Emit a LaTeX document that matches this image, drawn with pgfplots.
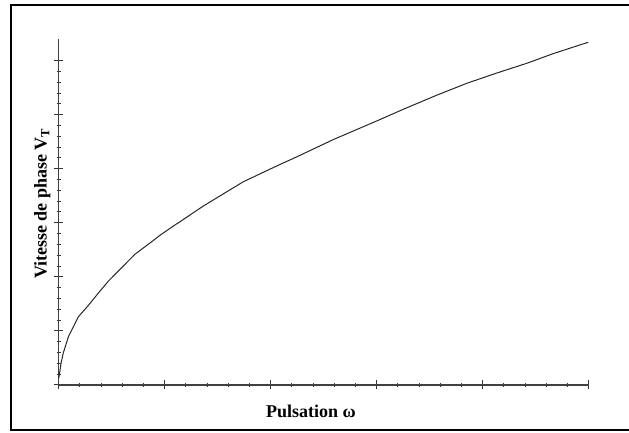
\documentclass[border=0pt]{standalone}
\usepackage{fontspec}
\setmainfont{Liberation Serif}
\usepackage{pgfplots}
\pgfplotsset{compat=1.18}
\begin{document}
\begin{tikzpicture}[x=1pt,y=1pt]
\useasboundingbox (0,0) rectangle (629,433);
\draw[line width=2pt,black] (11,2.7) rectangle (640,428.3);
\begin{axis}[
  at={(58.7pt,48pt)}, anchor=origin,
  scale only axis,
  width=530pt, height=346pt,
  xmin=0, xmax=5, ymin=0, ymax=6.4,
  axis lines*=left,
  axis line style={line width=1.3pt, black!75, -},
  xtick={0,1,2,3,4,5}, ytick={0,1,2,3,4,5,6},
  minor x tick num=4, minor y tick num=4,
  xticklabels={}, yticklabels={},
  tick align=center,
  major tick length=9pt, minor tick length=4pt,
  every tick/.style={black!80, line width=1pt},
  clip=false,
  xlabel={\fontsize{18}{20}\selectfont\bfseries Pulsation ω},
  ylabel={\fontsize{18}{20}\selectfont\bfseries Vitesse de phase V\textsubscript{T}},
  xlabel style={at={(axis description cs:0.476,-0.0945)}, anchor=base, rotate=0},
  ylabel style={at={(axis description cs:-0.0226,0.5246)}, anchor=base, rotate=0},
]
\addplot[black!85, line width=1pt] coordinates {
(0.000,0.13) (0.003,0.15) (0.022,0.40) (0.043,0.59) (0.091,0.89)
(0.185,1.26) (0.279,1.47) (0.374,1.70) (0.468,1.92) (0.594,2.17)
(0.720,2.42) (0.877,2.65) (0.956,2.77) (1.097,2.96) (1.144,3.02)
(1.364,3.31) (1.742,3.76) (2.088,4.08) (2.213,4.19) (2.591,4.54)
(3.031,4.91) (3.251,5.10) (3.566,5.36) (3.849,5.58) (4.132,5.77)
(4.415,5.95) (4.666,6.13) (4.996,6.34)
};
\end{axis}
\end{tikzpicture}
\end{document}
